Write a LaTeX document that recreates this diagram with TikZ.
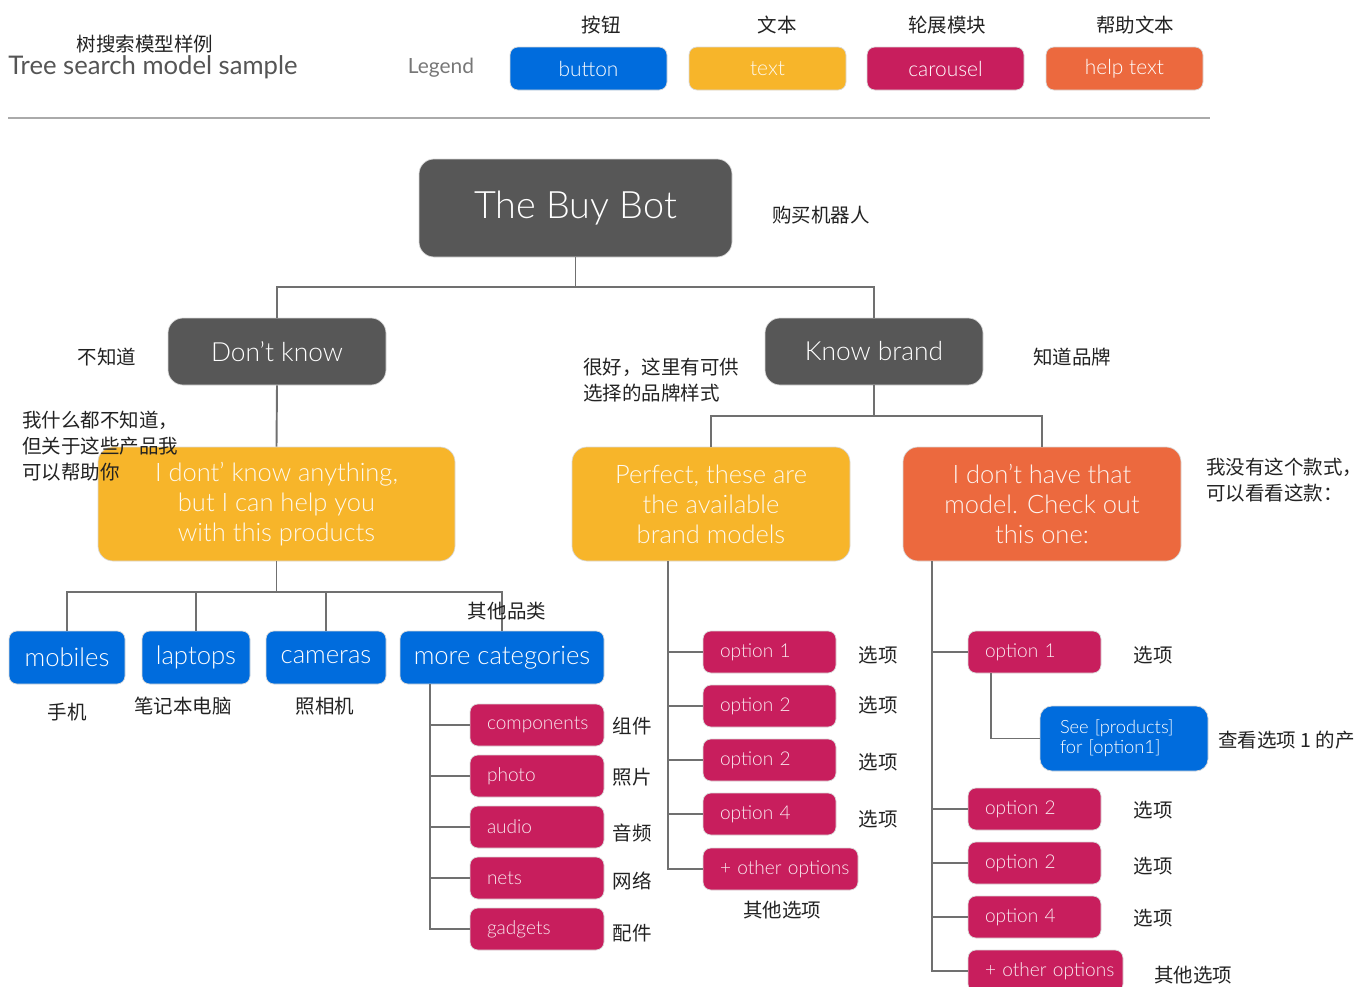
\documentclass[tikz,border=0pt]{standalone}
\usepackage{fontspec}
\setmainfont{Lato Light}
\newfontfamily\regular{Lato}
\newfontfamily\cjk{Noto Sans CJK SC}
\definecolor{cdark}{HTML}{575757}
\definecolor{cyellow}{HTML}{F7B52A}
\definecolor{corange}{HTML}{EC693E}
\definecolor{ccrimson}{HTML}{C81E5D}
\definecolor{cblue}{HTML}{006CDD}
\definecolor{cline}{HTML}{707070}
\definecolor{crule}{HTML}{AAAAAA}
\definecolor{ctext}{HTML}{222222}
\definecolor{ctitle}{HTML}{555555}
\definecolor{clegend}{HTML}{777777}
\tikzset{
  sz/.style 2 args={minimum width=#1*0.02cm, minimum height=#2*0.02cm},
  box/.style={inner sep=0pt, draw=black!15, line width=0.4pt, text=white, align=center},
  big/.style={box, rounded corners=0.3cm},
  small/.style={box, rounded corners=0.16cm},
  darkbox/.style={big, fill=cdark},
  yellowbox/.style={big, fill=cyellow, text=white!92!cyellow},
  orangebox/.style={big, fill=corange, text=white!92!corange},
  catbox/.style={small, fill=cblue, font=\fontsize{14.6}{17}\selectfont},
  legbox/.style={small, sz={157}{43}, font=\fontsize{11.9}{14}\selectfont},
  carbox/.style={small, fill=ccrimson, text=white!90!ccrimson,
     font=\fontsize{10.85}{13}\selectfont, align=left,
     inner xsep=17*0.02cm, text width=(#1-34)*0.02cm, sz={#1}{42}},
  conn/.style={draw=cline, line width=1.1pt},
  lbl/.style={font=\cjk\fontsize{11.1}{14.7}\selectfont, text=ctext, inner sep=0pt, align=left},
}
% a full-width comma that takes only half its width at a line end
\newcommand\halfcomma{\makebox[0.5em][l]{，}}
\begin{document}
\begin{tikzpicture}[x=0.02cm,y=-0.02cm]
\useasboundingbox (0,0) rectangle (1357,987);

% ---- header ----
\node[lbl] (ttlcn) at (145,44) {树搜索模型样例};
\node[anchor=west, inner sep=0pt, text=ctitle, font=\regular\fontsize{14.6}{17}\selectfont] (ttl) at (8,67) {Tree search model sample};
\node[inner sep=0pt, text=clegend, font=\regular\fontsize{11.9}{14}\selectfont] (leg) at (441,68) {Legend};

\node[legbox, fill=cblue] (lgb) at (588.5,68.5) {button};
\node[legbox, fill=cyellow, text=white!92!cyellow] (lgt) at (767.5,68.5) {text};
\node[legbox, fill=ccrimson] (lgc) at (945.5,68.5) {carousel};
\node[legbox, fill=corange] (lgh) at (1124.5,68.5) {help text};
\node[lbl] (lgbl) at (601,25) {按钮};
\node[lbl] (lgtl) at (777,25) {文本};
\node[lbl] (lgcl) at (947,25) {轮展模块};
\node[lbl] (lghl) at (1135,25) {帮助文本};

\draw[draw=crule, line width=1.1pt] (8,118) -- (1210,118);

% ---- top levels ----
\node[darkbox, sz={313}{98}, font=\fontsize{21.5}{25}\selectfont] (bot) at (575.5,208) {The Buy Bot};
\node[lbl, anchor=west] (botl) at (772,215) {购买机器人};

\node[darkbox, sz={218}{67}, font=\fontsize{15}{18}\selectfont] (dk) at (277,351.5) {Don't know};
\node[darkbox, sz={218}{67}, font=\fontsize{15}{18}\selectfont] (kb) at (874,351.5) {Know brand};
\node[lbl] (dkl) at (107,357) {不知道};
\node[lbl, anchor=west] (kbl) at (1033,357) {知道品牌};

\draw[conn] (bot.south) -- ++(0,30) coordinate (j1) -| (dk.north);
\draw[conn] (j1) -| (kb.north);

% ---- text / help boxes ----
\node[yellowbox, sz={357}{114}, font=\fontsize{14.5}{17}\selectfont] (y1) at (276.5,504)
  {I dont' know anything,\\but I can help you\\with this products};
\node[yellowbox, sz={278}{114}, font=\fontsize{14.5}{17}\selectfont] (perf) at (711,504)
  {Perfect, these are\\the available\\brand models};
\node[orangebox, sz={278}{114}, font=\fontsize{14.5}{17}\selectfont] (noh) at (1042,504)
  {I don't have that\\model. Check out\\this one:};

\draw[conn] (dk.south) -- (y1.north);
\draw[conn] (kb.south) -- ++(0,31) coordinate (j2) -| (perf.north);
\draw[conn] (j2) -| (noh.north);

\node[lbl, anchor=north west] (y1l) at (22,411) {我什么都不知道\halfcomma\\但关于这些产品我\\可以帮助你};
\node[lbl, anchor=north west] (perfl) at (583,358) {很好，这里有可供\\选择的品牌样式};
\node[lbl, anchor=north west] (nohl) at (1206,458) {我没有这个款式\halfcomma\\可以看看这款：};

% ---- categories ----
\node[catbox, sz={116}{53}] (mob) at (67,657.5) {mobiles};
\node[catbox, sz={108}{53}] (lap) at (196,657.5) {laptops};
\node[catbox, sz={120}{53}] (cam) at (326,657.5) {cameras};
\node[catbox, sz={204}{53}] (more) at (502,657.5) {more categories};

\draw[conn] (y1.south) -- ++(0,31) coordinate (j3) -| (mob.north);
\draw[conn] (j3) -| (lap.north);
\draw[conn] (j3) -| (cam.north);
\draw[conn] (j3) -| (more.north);

\node[lbl] (mobl) at (67,712) {手机};
\node[lbl] (lapl) at (183,706) {笔记本电脑};
\node[lbl] (caml) at (325,706) {照相机};
\node[lbl] (morel) at (507,611) {其他品类};

% ---- more categories ----
\node[carbox=134] (comp) at (537,725) {components};
\node[carbox=134] (phot) at (537,776) {photo};
\node[carbox=134] (aud) at (537,827) {audio};
\node[carbox=134] (nets) at (537,878) {nets};
\node[carbox=134] (gad) at (537,929) {gadgets};
\foreach \n in {comp,phot,aud,nets,gad}
  \draw[conn] ([xshift=0.6cm]more.south west) |- (\n.west);

\node[lbl] (compl) at (632,726) {组件};
\node[lbl] (photl) at (632,777) {照片};
\node[lbl] (audl) at (632,833) {音频};
\node[lbl] (netsl) at (632,881) {网络};
\node[lbl] (gadl) at (632,933) {配件};

% ---- brand models ----
\node[carbox=133] (a1) at (769.5,652) {option 1};
\node[carbox=133] (a2) at (769.5,706) {option 2};
\node[carbox=133] (a3) at (769.5,760) {option 2};
\node[carbox=133] (a4) at (769.5,814) {option 4};
\node[carbox=155] (a5) at (780.5,869) {\mbox{+ other options}};
\foreach \n in {a1,a2,a3,a4,a5}
  \draw[conn] ([xshift=1.92cm]perf.south west) |- (\n.west);

\node[lbl] (a1l) at (878,655) {选项};
\node[lbl] (a2l) at (878,705) {选项};
\node[lbl] (a3l) at (878,762) {选项};
\node[lbl] (a4l) at (878,819) {选项};
\node[lbl] (a5l) at (782,910) {其他选项};

% ---- alternative models ----
\node[carbox=133] (b1) at (1034.5,652) {option 1};
\node[small, fill=cblue, sz={168}{65}, align=left, inner xsep=20*0.02cm, text width=128*0.02cm,
      font=\fontsize{10.4}{11.5}\selectfont, rounded corners=0.24cm] (see) at (1124,738.5)
  {See [products]\\for [option1]};
\node[carbox=133] (b2) at (1034.5,809) {option 2};
\node[carbox=133] (b3) at (1034.5,863) {option 2};
\node[carbox=133] (b4) at (1034.5,917) {option 4};
\node[carbox=155] (b5) at (1045.5,971) {\mbox{+ other options}};
\foreach \n in {b1,b2,b3,b4,b5}
  \draw[conn] ([xshift=0.58cm]noh.south west) |- (\n.west);
\draw[conn] ([xshift=0.46cm]b1.south west) |- (see.west);

\node[lbl] (b1l) at (1153,655) {选项};
\node[lbl, anchor=west] (seel) at (1218,740) {查看选项 1 的产};
\node[lbl] (b2l) at (1153,810) {选项};
\node[lbl] (b3l) at (1153,866) {选项};
\node[lbl] (b4l) at (1153,918) {选项};
\node[lbl] (b5l) at (1193,975) {其他选项};
\end{tikzpicture}
\end{document}
